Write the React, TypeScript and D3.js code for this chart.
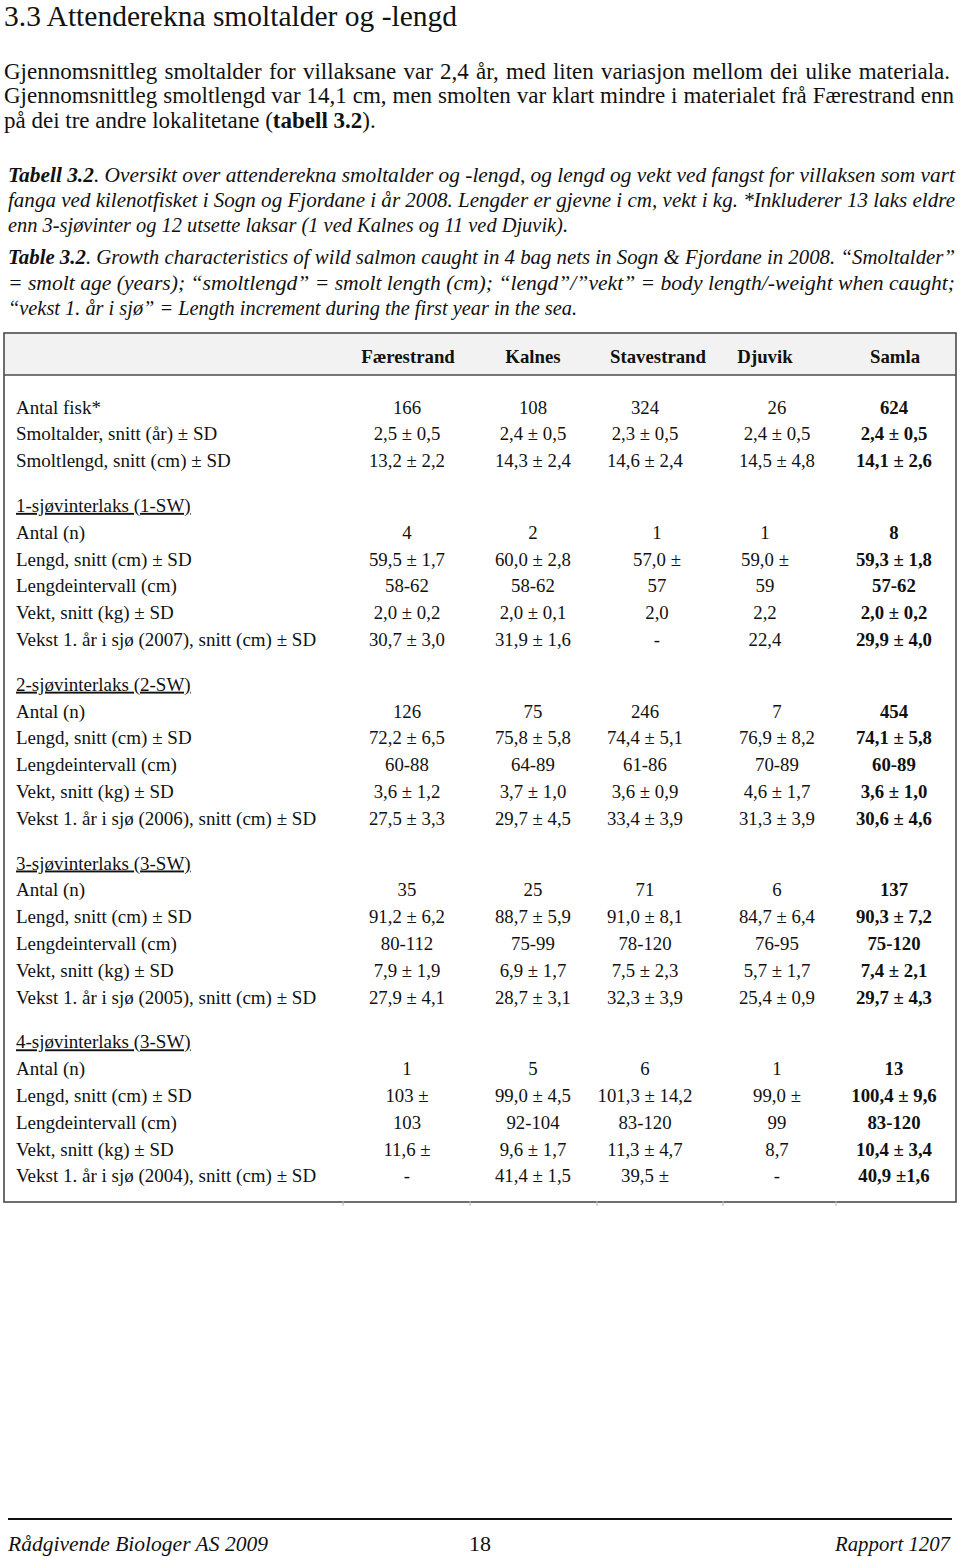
import React from "react";
import * as d3 from "d3";

const title = "3.3 Attenderekna smoltalder og -lengd";

const paragraphLines = [
  "Gjennomsnittleg smoltalder for villaksane var 2,4 år, med liten variasjon mellom dei ulike materiala.",
  "Gjennomsnittleg smoltlengd var 14,1 cm, men smolten var klart mindre i materialet frå Færestrand enn",
];

const columns = ["Færestrand", "Kalnes", "Stavestrand", "Djuvik", "Samla"];

const topLabels = ["Antal fisk*", "Smoltalder, snitt (år) ± SD", "Smoltlengd, snitt (cm) ± SD"];
const topValues = [
  ["166", "108", "324", "26", "624"],
  ["2,5 ± 0,5", "2,4 ± 0,5", "2,3 ± 0,5", "2,4 ± 0,5", "2,4 ± 0,5"],
  ["13,2 ± 2,2", "14,3 ± 2,4", "14,6 ± 2,4", "14,5 ± 4,8", "14,1 ± 2,6"],
];

const groupTitles = [
  "1-sjøvinterlaks (1-SW)",
  "2-sjøvinterlaks (2-SW)",
  "3-sjøvinterlaks (3-SW)",
  "4-sjøvinterlaks (3-SW)",
];
const groupYears = ["2007", "2006", "2005", "2004"];

const sw1 = [
  ["4", "2", "1", "1", "8"],
  ["59,5 ± 1,7", "60,0 ± 2,8", "57,0 ±", "59,0 ±", "59,3 ± 1,8"],
  ["58-62", "58-62", "57", "59", "57-62"],
  ["2,0 ± 0,2", "2,0 ± 0,1", "2,0", "2,2", "2,0 ± 0,2"],
  ["30,7 ± 3,0", "31,9 ± 1,6", "-", "22,4", "29,9 ± 4,0"],
];
const sw2 = [
  ["126", "75", "246", "7", "454"],
  ["72,2 ± 6,5", "75,8 ± 5,8", "74,4 ± 5,1", "76,9 ± 8,2", "74,1 ± 5,8"],
  ["60-88", "64-89", "61-86", "70-89", "60-89"],
  ["3,6 ± 1,2", "3,7 ± 1,0", "3,6 ± 0,9", "4,6 ± 1,7", "3,6 ± 1,0"],
  ["27,5 ± 3,3", "29,7 ± 4,5", "33,4 ± 3,9", "31,3 ± 3,9", "30,6 ± 4,6"],
];
const sw3 = [
  ["35", "25", "71", "6", "137"],
  ["91,2 ± 6,2", "88,7 ± 5,9", "91,0 ± 8,1", "84,7 ± 6,4", "90,3 ± 7,2"],
  ["80-112", "75-99", "78-120", "76-95", "75-120"],
  ["7,9 ± 1,9", "6,9 ± 1,7", "7,5 ± 2,3", "5,7 ± 1,7", "7,4 ± 2,1"],
  ["27,9 ± 4,1", "28,7 ± 3,1", "32,3 ± 3,9", "25,4 ± 0,9", "29,7 ± 4,3"],
];
const sw4 = [
  ["1", "5", "6", "1", "13"],
  ["103 ±", "99,0 ± 4,5", "101,3 ± 14,2", "99,0 ±", "100,4 ± 9,6"],
  ["103", "92-104", "83-120", "99", "83-120"],
  ["11,6 ±", "9,6 ± 1,7", "11,3 ± 4,7", "8,7", "10,4 ± 3,4"],
  ["-", "41,4 ± 1,5", "39,5 ±", "-", "40,9 ±1,6"],
];
const groupValues = [sw1, sw2, sw3, sw4];

const FONT = "'Liberation Serif', 'Times New Roman', serif";

function measure(text: string, size: number, weight = "normal", style = "normal"): number {
  if (typeof document === "undefined") return text.length * size * 0.45;
  const c = document.createElement("canvas");
  const ctx = c.getContext("2d");
  if (!ctx) return text.length * size * 0.45;
  ctx.font = `${style} ${weight} ${size}px "Liberation Serif"`;
  return ctx.measureText(text).width;
}

function wordSpacingFor(text: string, size: number, target: number): number {
  const w = measure(text, size);
  const spaces = (text.match(/ /g) || []).length;
  return spaces > 0 ? (target - w) / spaces : 0;
}

export default function App() {
  const W = 960;
  const H = 1557;

  const headerX = d3.scaleOrdinal<string, number>().domain(columns).range([408, 533, 658, 765, 895]);
  const dataX = d3.scaleOrdinal<string, number>().domain(columns).range([407, 533, 645, 777, 894]);
  const dataX1 = d3.scaleOrdinal<string, number>().domain(columns).range([407, 533, 657, 765, 894]);

  type Row = { kind: "data" | "group"; label: string; values?: string[]; group: number };
  const rows: Row[] = [];
  topLabels.forEach((l, i) => rows.push({ kind: "data", label: l, values: topValues[i], group: -1 }));
  groupTitles.forEach((g, gi) => {
    rows.push({ kind: "group", label: g, group: gi });
    const labels = [
      "Antal (n)",
      "Lengd, snitt (cm) ± SD",
      "Lengdeintervall (cm)",
      "Vekt, snitt (kg) ± SD",
      `Vekst 1. år i sjø (${groupYears[gi]}), snitt (cm) ± SD`,
    ];
    labels.forEach((l, i) => rows.push({ kind: "data", label: l, values: groupValues[gi][i], group: gi }));
  });

  const step = 26.8;
  const gap = 18;
  const yScale = d3.scaleLinear().domain([0, 1]).range([407, 407 + step]);
  let gapsSoFar = 0;
  const rowY = rows.map((r, i) => {
    if (r.kind === "group") gapsSoFar += 1;
    return yScale(i) + gapsSoFar * gap;
  });

  const tableLeft = 4;
  const tableRight = 956;
  const tableTop = 333;
  const headerBottom = 375;
  const tableBottom = 1202;
  const colBounds = [343, 470, 597, 723, 836];

  const fs = 19;
  const pfs = 23;
  const paraTargets = [946, 950];
  const cfs = 20.5;

  return (
    <svg
      width={W}
      height={H}
      viewBox={`0 0 ${W} ${H}`}
      style={{ position: "absolute", left: 0, top: 0, background: "#fff" }}
      fontFamily={FONT}
    >
      <rect x={0} y={0} width={W} height={H} fill="#fff" />
      <text x={4} y={25.5} fontSize={29.5} fill="#111">
        {title}
      </text>

      {paragraphLines.map((l, i) => (
        <text
          key={i}
          x={4}
          y={78.5 + i * 24.5}
          fontSize={pfs}
          fill="#111"
          wordSpacing={wordSpacingFor(l, pfs, paraTargets[i])}
        >
          {l}
        </text>
      ))}
      <text x={4} y={127.5} fontSize={pfs} fill="#111">
        på dei tre andre lokalitetane (<tspan fontWeight="bold">tabell 3.2</tspan>).
      </text>

      {/* Norwegian caption */}
      <g fontStyle="italic" fontSize={cfs} fill="#111">
        <text x={8} y={182} textLength={947} lengthAdjust="spacingAndGlyphs">
          <tspan fontWeight="bold">Tabell 3.2</tspan>. Oversikt over attenderekna smoltalder og -lengd, og lengd og vekt ved fangst for villaksen som vart
        </text>
        <text x={8} y={207} textLength={947} lengthAdjust="spacingAndGlyphs">
          fanga ved kilenotfisket i Sogn og Fjordane i år 2008. Lengder er gjevne i cm, vekt i kg. *Inkluderer 13 laks eldre
        </text>
        <text x={8} y={232} textLength={560} lengthAdjust="spacingAndGlyphs">
          enn 3-sjøvinter og 12 utsette laksar (1 ved Kalnes og 11 ved Djuvik).
        </text>
        <text x={8} y={264} textLength={947} lengthAdjust="spacingAndGlyphs">
          <tspan fontWeight="bold">Table 3.2</tspan>. Growth characteristics of wild salmon caught in 4 bag nets in Sogn &amp; Fjordane in 2008. “Smoltalder”
        </text>
        <text x={8} y={290} textLength={947} lengthAdjust="spacingAndGlyphs">
          = smolt age (years); “smoltlengd” = smolt length (cm); “lengd”/”vekt” = body length/-weight when caught;
        </text>
        <text x={8} y={315} textLength={569} lengthAdjust="spacingAndGlyphs">
          “vekst 1. år i sjø” = Length increment during the first year in the sea.
        </text>
      </g>

      {/* Table */}
      <rect
        x={tableLeft}
        y={tableTop}
        width={tableRight - tableLeft}
        height={headerBottom - tableTop}
        fill="#f2f2f2"
      />
      <rect
        x={tableLeft}
        y={tableTop}
        width={tableRight - tableLeft}
        height={tableBottom - tableTop}
        fill="none"
        stroke="#4a4a4a"
        strokeWidth={1.6}
      />
      <line x1={tableLeft} x2={tableRight} y1={headerBottom} y2={headerBottom} stroke="#4a4a4a" strokeWidth={1.6} />
      {colBounds.map((x, i) => (
        <line key={i} x1={x} x2={x} y1={tableBottom - 1} y2={tableBottom + 4} stroke="#bbb" strokeWidth={1} />
      ))}

      {columns.map((c) => (
        <text key={c} x={headerX(c)} y={363} fontSize={18.8} fontWeight="bold" textAnchor="middle" fill="#111">
          {c}
        </text>
      ))}

      {rows.map((r, i) => {
        const y = rowY[i] + 6.5;
        if (r.kind === "group") {
          return (
            <text key={i} x={16} y={y} fontSize={fs} fill="#111" textDecoration="underline">
              {r.label}
            </text>
          );
        }
        const xs = r.group === 0 ? dataX1 : dataX;
        return (
          <g key={i}>
            <text x={16} y={y} fontSize={fs} fill="#111">
              {r.label}
            </text>
            {r.values!.map((v, ci) => (
              <text
                key={ci}
                x={xs(columns[ci])}
                y={y}
                fontSize={18.8}
                textAnchor="middle"
                fontWeight={ci === 4 ? "bold" : "normal"}
                fill="#111"
              >
                {v}
              </text>
            ))}
          </g>
        );
      })}

      {/* Footer */}
      <line x1={8} x2={952} y1={1519} y2={1519} stroke="#111" strokeWidth={2} />
      <text x={8} y={1551} fontSize={21} fontStyle="italic" fill="#111" textLength={260} lengthAdjust="spacingAndGlyphs">
        Rådgivende Biologer AS 2009
      </text>
      <text x={480} y={1551} fontSize={22} textAnchor="middle" fill="#111">
        18
      </text>
      <text x={950} y={1551} fontSize={21} fontStyle="italic" textAnchor="end" fill="#111" textLength={115} lengthAdjust="spacingAndGlyphs">
        Rapport 1207
      </text>
    </svg>
  );
}
